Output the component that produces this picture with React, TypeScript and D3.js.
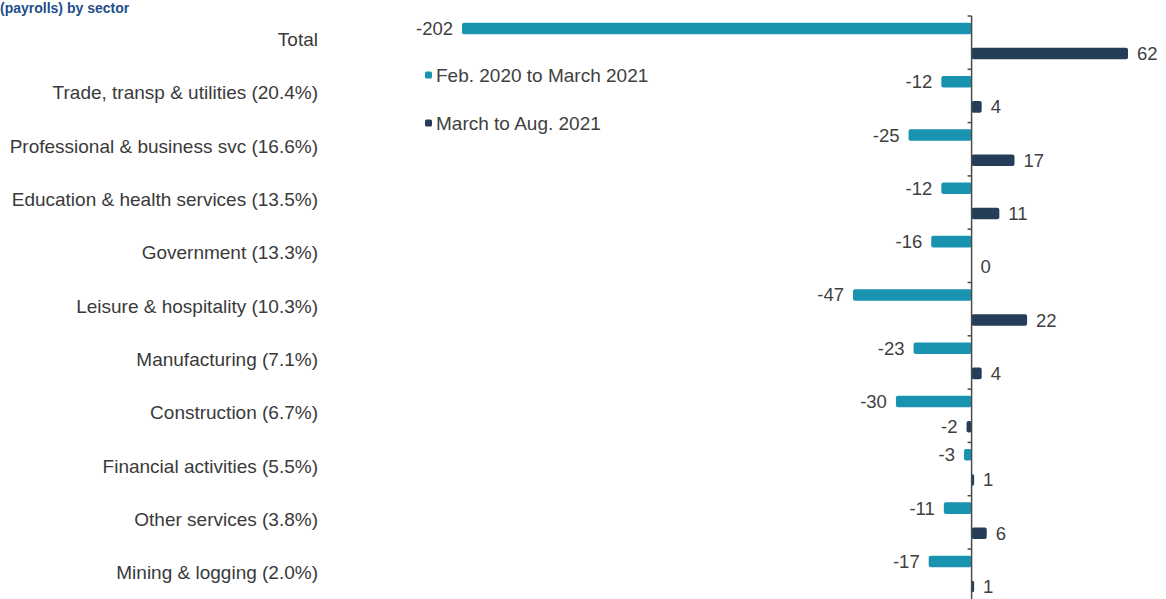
import React from "react";
import * as d3 from "d3";

const categories = [
  "Total",
  "Trade, transp & utilities (20.4%)",
  "Professional & business svc (16.6%)",
  "Education & health services (13.5%)",
  "Government (13.3%)",
  "Leisure & hospitality (10.3%)",
  "Manufacturing (7.1%)",
  "Construction (6.7%)",
  "Financial activities (5.5%)",
  "Other services (3.8%)",
  "Mining & logging (2.0%)",
];
const febToMarch2021 = [-202, -12, -25, -12, -16, -47, -23, -30, -3, -11, -17];
const marchToAug2021 = [62, 4, 17, 11, 0, 22, 4, -2, 1, 6, 1];
const seriesNames = ["Feb. 2020 to March 2021", "March to Aug. 2021"];
const seriesColors = ["#1A93B0", "#263D59"];
const titleText = "(payrolls) by sector";

const W = 1166;
const H = 599;
const FONT = "'Liberation Sans', Arial, Helvetica, sans-serif";

export default function App() {
  const x = d3.scaleLinear().domain([-202, 62]).range([462, 1128]);
  const y = d3
    .scaleBand<string>()
    .domain(categories)
    .range([16, 16 + 53.3 * categories.length])
    .paddingInner(0)
    .paddingOuter(0);
  const inner = d3
    .scaleBand<number>()
    .domain([0, 1])
    .range([0, y.bandwidth()])
    .paddingInner(0.54)
    .paddingOuter(0.33)
    .align(0.4);
  const series = [febToMarch2021, marchToAug2021];
  const x0 = x(0);

  return (
    <svg
      width={W}
      height={H}
      style={{ position: "absolute", left: 0, top: 0, background: "#fff" }}
      fontFamily={FONT}
    >
      <rect x={0} y={0} width={W} height={H} fill="#fff" />
      <text x={0} y={13} fontSize={14} fontWeight="bold" fill="#1F4E8C">
        {titleText}
      </text>

      {categories.map((c) => (
        <text
          key={c}
          x={318}
          y={(y(c) as number) + y.bandwidth() / 2 - 3}
          textAnchor="end"
          dominantBaseline="central"
          fontSize={19}
          fill="#3a3a3a"
        >
          {c}
        </text>
      ))}

      {series.map((vals, si) =>
        vals.map((v, i) => {
          const c = categories[i];
          const by = (y(c) as number) + (inner(si) as number);
          const bh = inner.bandwidth();
          const xa = Math.min(x(v), x0);
          const w = Math.abs(x(v) - x0);
          const cy = by + bh / 2;
          return (
            <g key={`${si}-${i}`}>
              {w > 0 && (
                <rect x={xa} y={by} width={w} height={bh} fill={seriesColors[si]} rx={2} />
              )}
              <text
                x={v < 0 ? x(v) - 9 : x(v) + 9}
                y={cy}
                textAnchor={v < 0 ? "end" : "start"}
                dominantBaseline="central"
                fontSize={18.5}
                fill="#404040"
              >
                {v}
              </text>
            </g>
          );
        })
      )}

      <line x1={x0} x2={x0} y1={16} y2={H} stroke="#4a4a4a" strokeWidth={1.5} />
      {categories.map((c, i) => (
        <line
          key={`t${i}`}
          x1={x0 - 4}
          x2={x0}
          y1={y(c) as number}
          y2={y(c) as number}
          stroke="#4a4a4a"
          strokeWidth={1.5}
        />
      ))}

      {seriesNames.map((s, i) => (
        <g key={s} transform={`translate(425, ${75 + i * 48})`}>
          <rect x={0} y={-3.5} width={7} height={7} rx={1.5} fill={seriesColors[i]} />
          <text x={11} y={0} dominantBaseline="central" fontSize={19} fill="#404040">
            {s}
          </text>
        </g>
      ))}
    </svg>
  );
}
